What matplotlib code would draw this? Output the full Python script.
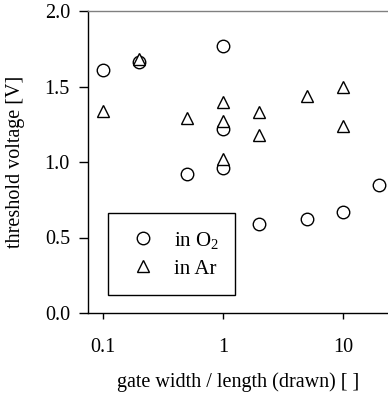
import numpy as np
import matplotlib.pyplot as plt
from matplotlib.ticker import FixedLocator, NullLocator

# data
o2_ratio = [0.1, 0.2, 0.5, 1, 1, 1, 2, 5, 10, 20]
o2_vth = [1.61, 1.66, 0.92, 1.77, 1.22, 0.96, 0.59, 0.62, 0.67, 0.85]
ar_ratio = [0.1, 0.2, 0.5, 1, 1, 1, 2, 2, 5, 10, 10]
ar_vth = [1.34, 1.68, 1.29, 1.40, 1.27, 1.02, 1.33, 1.18, 1.44, 1.50, 1.24]

xticks = [0.1, 1, 10]
xticklabels = ['0.1', '1', '10']
yticks = [0.0, 0.5, 1.0, 1.5, 2.0]

plt.rcParams['font.family'] = ['Liberation Serif', 'DejaVu Serif']
plt.rcParams['mathtext.fontset'] = 'custom'
plt.rcParams['mathtext.rm'] = 'Liberation Serif'
plt.rcParams['mathtext.it'] = 'Liberation Serif:italic'

fig = plt.figure(figsize=(3.88, 3.97), dpi=100)
ax = fig.add_axes([88/388, 84/397, 1 - 88/388, (313-11)/397])

ax.plot(o2_ratio, o2_vth, 'o', mfc='white', mec='black', mew=1.0, ms=9,
        ls='none', label='in O$_\\mathrm{2}$')
ax.plot(ar_ratio, ar_vth, '^', mfc='white', mec='black', mew=1.0, ms=9,
        ls='none', label='in Ar')

ax.set_xscale('log')
ax.set_xlim(0.075, 23.7)
ax.set_ylim(0, 2.0)
ax.xaxis.set_major_locator(FixedLocator(xticks))
ax.xaxis.set_minor_locator(NullLocator())
ax.set_xticklabels(xticklabels)
ax.set_yticks(yticks)
ax.set_yticklabels([f'{v:.1f}' for v in yticks])

ax.spines['right'].set_visible(False)
ax.spines['top'].set_color('#808080')
for s in ['left', 'bottom', 'top']:
    ax.spines[s].set_linewidth(1.0)
ax.tick_params(direction='out', width=1.0, labelsize=14.5)
ax.tick_params(axis='x', length=4.5, pad=13.5)
ax.tick_params(axis='y', length=6.5, pad=6.5)

ax.set_xlabel('gate width / length (drawn) [ ]', fontsize=14.5, labelpad=11)
ax.set_ylabel('threshold voltage [V]', fontsize=14.5, labelpad=14)

leg = ax.legend(loc='upper left', bbox_to_anchor=(108/388, (397-213)/397),
                bbox_transform=fig.transFigure, frameon=True, fancybox=False,
                edgecolor='black', fontsize=15, handletextpad=0.55, labelspacing=0.4,
                borderpad=0.8, borderaxespad=0, handlelength=1.8, framealpha=1)
leg.get_frame().set_linewidth(1.0)

fig.savefig('out.png', dpi=100)
